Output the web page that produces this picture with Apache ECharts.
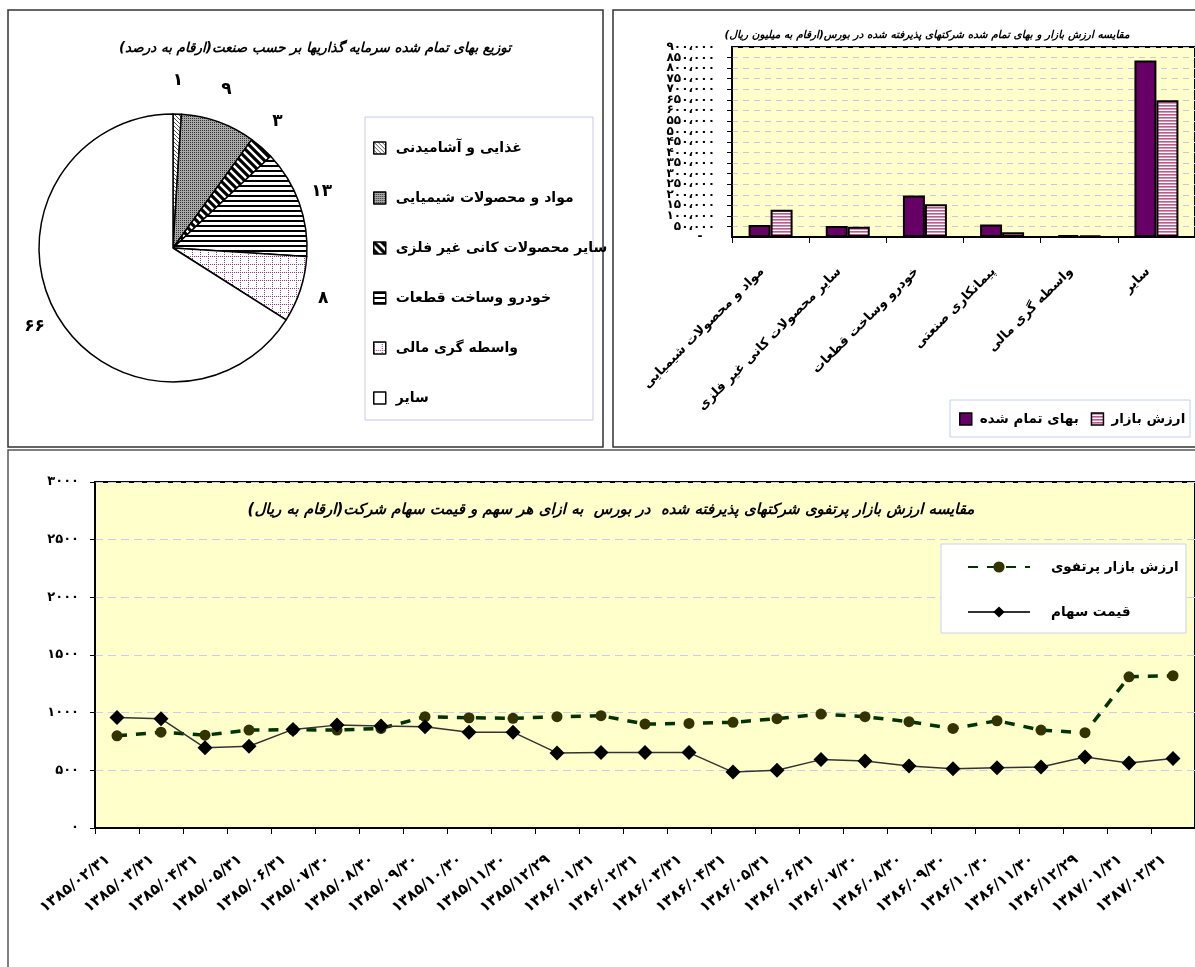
<!DOCTYPE html>
<html><head><meta charset="utf-8">
<script src="https://cdn.jsdelivr.net/npm/echarts@6/dist/echarts.min.js"></script>
<style>html,body{margin:0;padding:0;background:#fff}#c{width:1195px;height:967px}</style>
</head><body><div id="c"></div>
<script>
// ---------- data ----------
const pieNames = ['غذایی و آشامیدنی','مواد و محصولات شیمیایی','سایر محصولات کانی غیر فلزی','خودرو وساخت قطعات','واسطه گری مالی','سایر'];
const pieValues = [1, 9, 3, 13, 8, 66];
const pieLabels = ['۱','۹','۳','۱۳','۸','۶۶'];

const barCategories = ['مواد و محصولات شیمیایی','سایر محصولات کانی غیر فلزی','خودرو وساخت قطعات','پیمانکاری صنعتی','واسطه گری مالی','سایر'];
const barSeriesNames = ['بهای تمام شده','ارزش بازار'];
const barCost = [56600, 51900, 196500, 59700, 9400, 836000];
const barMarket = [129000, 48700, 155700, 22000, 6300, 647800];
const barTickLabels = ['-   ','۵۰،۰۰۰','۱۰۰،۰۰۰','۱۵۰،۰۰۰','۲۰۰،۰۰۰','۲۵۰،۰۰۰','۳۰۰،۰۰۰','۳۵۰،۰۰۰','۴۰۰،۰۰۰','۴۵۰،۰۰۰','۵۰۰،۰۰۰','۵۵۰،۰۰۰','۶۰۰،۰۰۰','۶۵۰،۰۰۰','۷۰۰،۰۰۰','۷۵۰،۰۰۰','۸۰۰،۰۰۰','۸۵۰،۰۰۰','۹۰۰،۰۰۰'];

const lineCategories = ['۱۳۸۵/۰۲/۳۱','۱۳۸۵/۰۳/۳۱','۱۳۸۵/۰۴/۳۱','۱۳۸۵/۰۵/۳۱','۱۳۸۵/۰۶/۳۱','۱۳۸۵/۰۷/۳۰','۱۳۸۵/۰۸/۳۰','۱۳۸۵/۰۹/۳۰','۱۳۸۵/۱۰/۳۰','۱۳۸۵/۱۱/۳۰','۱۳۸۵/۱۲/۲۹','۱۳۸۶/۰۱/۳۱','۱۳۸۶/۰۲/۳۱','۱۳۸۶/۰۳/۳۱','۱۳۸۶/۰۴/۳۱','۱۳۸۶/۰۵/۳۱','۱۳۸۶/۰۶/۳۱','۱۳۸۶/۰۷/۳۰','۱۳۸۶/۰۸/۳۰','۱۳۸۶/۰۹/۳۰','۱۳۸۶/۱۰/۳۰','۱۳۸۶/۱۱/۳۰','۱۳۸۶/۱۲/۲۹','۱۳۸۷/۰۱/۳۱','۱۳۸۷/۰۲/۳۱'];
const lineSeriesNames = ['ارزش بازار پرتفوی','قیمت سهام'];
const lineMarket = [799, 831, 805, 849, 852, 849, 863, 965, 956, 951, 965, 974, 901, 907, 916, 948, 988, 965, 922, 863, 930, 849, 826, 1311, 1320];
const linePrice = [959, 948, 695, 709, 855, 892, 884, 878, 831, 831, 651, 654, 654, 654, 485, 500, 593, 581, 538, 514, 523, 529, 616, 564, 602];
const lineTickLabels = ['۰','۵۰۰','۱۰۰۰','۱۵۰۰','۲۰۰۰','۲۵۰۰','۳۰۰۰'];

const titles = {
  pie: 'توزیع بهای تمام شده سرمایه گذاریها بر حسب صنعت(ارقام به درصد)',
  bar: 'مقایسه ارزش بازار و بهای تمام شده شرکتهای پذیرفته شده در بورس(ارقام به میلیون ریال)',
  line: 'مقایسه ارزش بازار پرتفوی شرکتهای پذیرفته شده  در بورس  به ازای هر سهم و قیمت سهام شرکت(ارقام به ریال)'
};
const RLM = '\u200F';
const FF = 'DejaVu Sans';
const BAR_MAX = 900000, BAR_STEP = 50000;

// ---------- patterns ----------
function pat(w, h, draw) {
  const c = document.createElement('canvas');
  c.width = w; c.height = h;
  const g = c.getContext('2d');
  draw(g, w, h);
  return { image: c, repeat: 'repeat' };
}
const pFood = pat(4, 4, (g) => { g.fillStyle = '#fff'; g.fillRect(0,0,4,4); g.fillStyle = '#555'; for (let i=0;i<4;i++) g.fillRect(i, i, 1, 1); });
const pChem = pat(2, 2, (g) => { g.fillStyle = '#a8a8a8'; g.fillRect(0,0,2,2); g.fillStyle = '#333'; g.fillRect(0,0,1,1); });
const pNonMetal = pat(8, 8, (g) => {
  g.fillStyle = '#fff'; g.fillRect(0,0,8,8);
  g.strokeStyle = '#000'; g.lineWidth = 3.2;
  g.beginPath(); g.moveTo(-2,-2); g.lineTo(10,10); g.moveTo(-6,2); g.lineTo(2,10); g.moveTo(6,-2); g.lineTo(14,6); g.stroke();
});
const pAuto = pat(1, 5, (g) => { g.fillStyle = '#fff'; g.fillRect(0,0,1,5); g.fillStyle = '#000'; g.fillRect(0,0,1,2); });
const pFin = pat(8, 8, (g) => {
  g.fillStyle = '#fff'; g.fillRect(0,0,8,8);
  g.fillStyle = '#993399';
  for (let i=0;i<8;i+=2) { g.fillRect(i,0,1,1); g.fillRect(0,i,1,1); }
});
const pieColors = [pFood, pChem, pNonMetal, pAuto, pFin, '#ffffff'];
const pPink = pat(1, 3, (g) => { g.fillStyle = '#b85c8c'; g.fillRect(0,0,1,1); g.fillStyle = '#d994b8'; g.fillRect(0,1,1,1); g.fillStyle = '#fff'; g.fillRect(0,2,1,1); });

// ---------- chart ----------
const chart = echarts.init(document.getElementById('c'));
const boldLabel = { fontFamily: FF, fontWeight: 'bold', color: '#000' };
const PIE_C = [173, 248], PIE_R = 134;
const barLabel = (v) => barTickLabels[Math.round(v / BAR_STEP)];

chart.setOption({
  animation: false,
  backgroundColor: '#fff',
  textStyle: { fontFamily: FF },
  graphic: [
    { type: 'rect', shape: { x: 8, y: 10, width: 595, height: 437 }, style: { fill: 'none', stroke: '#333', lineWidth: 1.5 }, z: 1 },
    { type: 'rect', shape: { x: 613, y: 10, width: 590, height: 437 }, style: { fill: 'none', stroke: '#333', lineWidth: 1.5 }, z: 1 },
    { type: 'rect', shape: { x: 8, y: 450, width: 1200, height: 530 }, style: { fill: 'none', stroke: '#555', lineWidth: 1.5 }, z: 1 },
    { type: 'rect', shape: { x: 365, y: 117, width: 228, height: 303 }, style: { fill: '#fff', stroke: '#c8c8f0', lineWidth: 1 }, z: 1 },
    { type: 'rect', shape: { x: 950, y: 400, width: 240, height: 37 }, style: { fill: '#fff', stroke: '#c0d0f4', lineWidth: 1 }, z: 3 },
    { type: 'rect', shape: { x: 941, y: 544, width: 245, height: 89 }, style: { fill: '#fff', stroke: '#c8d0f0', lineWidth: 1 }, z: 3 },
    { type: 'text', x: 315, y: 48, z: 5, style: { text: RLM + titles.pie + RLM, align: 'center', verticalAlign: 'middle', font: 'italic bold 13.5px "DejaVu Sans"', fill: '#000' } },
    { type: 'text', x: 927, y: 35, z: 5, style: { text: RLM + titles.bar + RLM, align: 'center', verticalAlign: 'middle', font: 'italic bold 10.5px "DejaVu Sans"', fill: '#000' } },
    { type: 'text', x: 611, y: 510, z: 5, style: { text: RLM + titles.line + RLM, align: 'center', verticalAlign: 'middle', font: 'italic bold 15px "DejaVu Sans"', fill: '#000' } }
  ],
  legend: [
    {
      seriesIndex: 0,
      data: pieNames,
      icon: 'rect',
      orient: 'vertical', left: 368, top: 136, itemWidth: 12, itemHeight: 12, itemGap: 36,
      itemStyle: { borderColor: '#000', borderWidth: 1.5 },
      textStyle: { fontFamily: FF, fontWeight: 'bold', fontSize: 14, color: '#000', lineHeight: 14, padding: [0,0,0,5] },
      selectedMode: false
    },
    {
      data: barSeriesNames,
      icon: 'rect',
      orient: 'horizontal', left: 959, top: 412, width: 400, itemWidth: 12, itemHeight: 12, itemGap: 12,
      padding: 0,
      itemStyle: { borderColor: '#000', borderWidth: 1.5 },
      textStyle: { fontFamily: FF, fontWeight: 'bold', fontSize: 13.5, color: '#000', padding: [0,0,0,3] },
      selectedMode: false
    },
    {
      data: lineSeriesNames,
      orient: 'vertical', left: 962, top: 555, width: 300, itemWidth: 62, itemHeight: 14, itemGap: 31,
      textStyle: { fontFamily: FF, fontWeight: 'bold', fontSize: 13.5, color: '#000', padding: [0,0,0,16] },
      selectedMode: false
    }
  ],
  grid: [
    { left: 732, top: 47, width: 466, height: 190, show: true, backgroundColor: '#ffffcc', borderColor: '#000', borderWidth: 2 },
    { left: 95, top: 482, width: 1105, height: 346, show: true, backgroundColor: '#ffffcc', borderColor: '#000', borderWidth: 2 }
  ],
  xAxis: [
    {
      gridIndex: 0, type: 'category', data: barCategories,
      axisLine: { lineStyle: { color: '#000', width: 2 } },
      axisTick: { show: true, length: 6, lineStyle: { color: '#000' } },
      axisLabel: Object.assign({ interval: 0, rotate: 45, margin: 24, fontSize: 13, padding: [0, 12, 0, 0] }, boldLabel)
    },
    {
      gridIndex: 1, type: 'category', data: lineCategories,
      axisLine: { lineStyle: { color: '#000', width: 2 } },
      axisTick: { show: true, length: 6, lineStyle: { color: '#000' } },
      axisLabel: Object.assign({ interval: 0, rotate: 38, margin: 23, fontSize: 15, padding: [0, 11, 0, 0] }, boldLabel)
    }
  ],
  yAxis: [
    {
      // main bar axis: inner tick labels
      gridIndex: 0, type: 'value', min: 0, max: BAR_MAX, interval: BAR_STEP,
      axisLine: { show: true, lineStyle: { color: '#000', width: 1.5 } },
      axisTick: { show: true, length: 5, lineStyle: { color: '#000' } },
      axisLabel: Object.assign({ fontSize: 12, margin: 17, showMinLabel: false, showMaxLabel: false, formatter: barLabel }, boldLabel),
      splitLine: { lineStyle: { color: '#c8c8e6', type: [6, 5] } }
    },
    {
      // same scale, shows only the end labels (min / max)
      gridIndex: 0, type: 'value', min: 0, max: BAR_MAX, interval: BAR_STEP, position: 'left',
      axisLine: { show: false }, axisTick: { show: false }, splitLine: { show: false },
      axisLabel: Object.assign({ fontSize: 12, margin: 17, showMinLabel: true, showMaxLabel: true,
        formatter: (v) => (v === 0 || v === BAR_MAX) ? barLabel(v) : '' }, boldLabel)
    },
    {
      gridIndex: 1, type: 'value', min: 0, max: 3000, interval: 500,
      axisLine: { show: true, lineStyle: { color: '#000', width: 1.5 } },
      axisTick: { show: true, length: 5, lineStyle: { color: '#000' } },
      axisLabel: Object.assign({ fontSize: 13, margin: 16, showMinLabel: true, showMaxLabel: true,
        formatter: (v) => lineTickLabels[Math.round(v / 500)] }, boldLabel),
      splitLine: { lineStyle: { color: '#ccccec', type: [8, 5] } }
    }
  ],
  series: [
    {
      type: 'pie', center: PIE_C, radius: PIE_R, startAngle: 90, clockwise: true,
      avoidLabelOverlap: false,
      itemStyle: { borderColor: '#000', borderWidth: 1.5 },
      label: { show: true, position: 'outside', fontFamily: FF, fontWeight: 'bold', fontSize: 17, color: '#000',
               formatter: (p) => pieLabels[p.dataIndex] },
      labelLine: { show: false, length: 14, length2: 4 },
      labelLayout: (p) => {
        const pt = p.labelLinePoints ? p.labelLinePoints[0] : null;
        if (!pt) return {};
        const dx = pt[0] - PIE_C[0], dy = pt[1] - PIE_C[1];
        const len = Math.sqrt(dx * dx + dy * dy) || 1;
        const ux = dx / len, uy = dy / len;
        const d = PIE_R + 24;
        return {
          x: PIE_C[0] + ux * d,
          y: PIE_C[1] + uy * d - 10 * Math.max(0, -uy) + 5 * Math.max(0, uy),
          align: 'center', verticalAlign: 'middle'
        };
      },
      emphasis: { disabled: true },
      data: pieNames.map((n, i) => ({ name: n, value: pieValues[i], itemStyle: { color: pieColors[i] } }))
    },
    {
      name: barSeriesNames[0], type: 'bar', xAxisIndex: 0, yAxisIndex: 0, data: barCost,
      barWidth: 22, barGap: '0%',
      itemStyle: { color: '#660066', borderColor: '#000', borderWidth: 2 }
    },
    {
      name: barSeriesNames[1], type: 'bar', xAxisIndex: 0, yAxisIndex: 0, data: barMarket,
      barWidth: 22, barGap: '0%',
      itemStyle: { color: pPink, borderColor: '#000', borderWidth: 2 }
    },
    {
      name: lineSeriesNames[0], type: 'line', xAxisIndex: 1, yAxisIndex: 2, data: lineMarket,
      symbol: 'circle', symbolSize: 11,
      itemStyle: { color: '#333300' },
      lineStyle: { color: '#003300', width: 3.5, type: [10, 9] }
    },
    {
      name: lineSeriesNames[1], type: 'line', xAxisIndex: 1, yAxisIndex: 2, data: linePrice,
      symbol: 'diamond', symbolSize: 15,
      itemStyle: { color: '#000' },
      lineStyle: { color: '#333', width: 1.5 }
    }
  ]
});
</script>
</body></html>
